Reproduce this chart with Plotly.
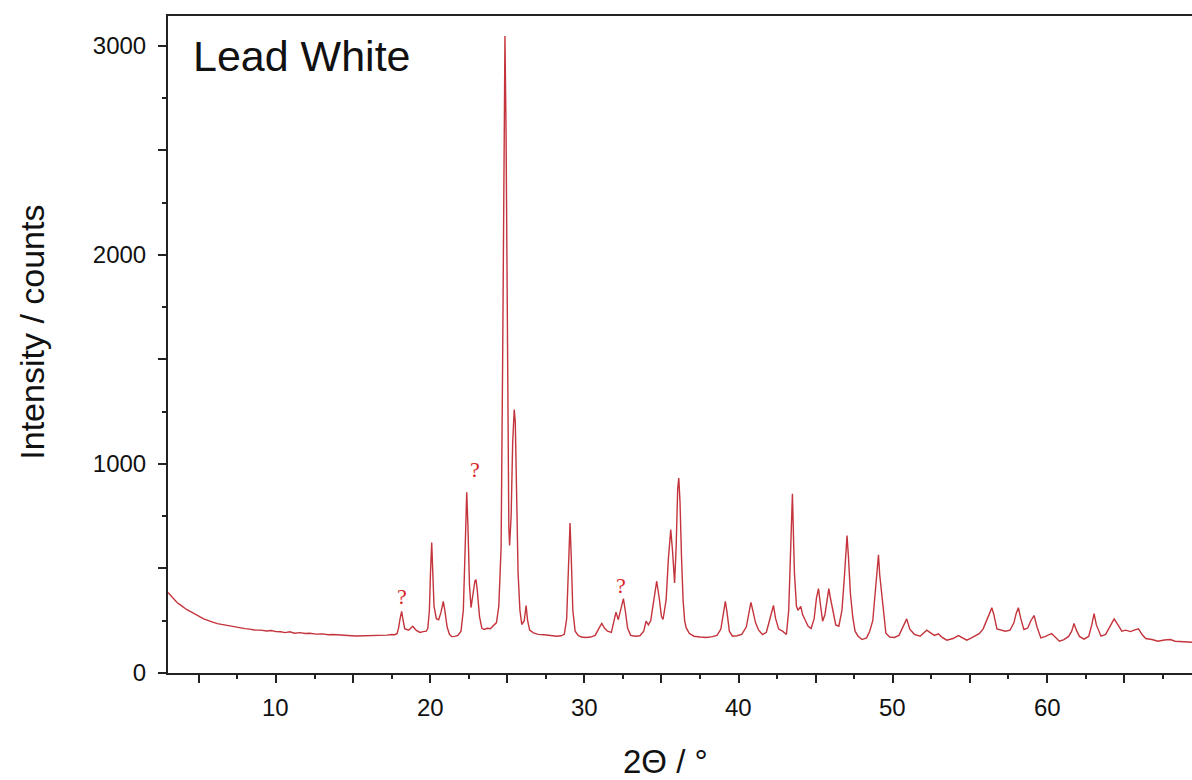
import plotly.graph_objects as go

# 2-theta positions (degrees) and intensities (counts)
two_theta = [
    3.0, 3.15, 3.3, 3.45, 3.6, 3.8, 3.97, 4.2, 4.5, 4.8, 5.08, 5.35, 5.6, 5.9, 6.2,
    6.6, 7.2, 7.6, 8.0, 8.3, 8.6, 9.0, 9.4, 9.7, 10.0, 10.3, 10.6, 10.9, 11.2,
    11.56, 11.9, 12.2, 12.6, 13.0, 13.4, 13.7, 14.1, 14.5, 14.9, 15.2, 15.6, 15.9,
    16.2, 16.5, 16.9, 17.2, 17.5, 17.7, 17.85, 17.95, 18.05, 18.15, 18.25, 18.35,
    18.6, 18.87, 19.1, 19.34, 19.55, 19.75, 19.85, 19.95, 20.02, 20.1, 20.16,
    20.25, 20.4, 20.55, 20.7, 20.85, 20.95, 21.1, 21.25, 21.4, 21.6, 21.8, 22.0,
    22.15, 22.27, 22.37, 22.45, 22.55, 22.65, 22.75, 22.9, 22.97, 23.05, 23.2,
    23.35, 23.5, 23.7, 23.9, 24.1, 24.3, 24.45, 24.6, 24.7, 24.78, 24.85, 24.92,
    25.0, 25.1, 25.15, 25.25, 25.35, 25.45, 25.52, 25.6, 25.7, 25.82, 25.94,
    26.1, 26.22, 26.32, 26.45, 26.7, 27.0, 27.4, 27.77, 28.2, 28.5, 28.7, 28.85,
    28.97, 29.07, 29.15, 29.25, 29.4, 29.6, 29.8, 30.1, 30.4, 30.7, 30.95, 31.13,
    31.3, 31.5, 31.75, 31.9, 32.05, 32.2, 32.35, 32.53, 32.65, 32.8, 33.0, 33.3,
    33.6, 33.85, 34.0, 34.15, 34.3, 34.5, 34.69, 34.85, 35.0, 35.1, 35.3, 35.45,
    35.6, 35.72, 35.85, 35.95, 36.05, 36.12, 36.2, 36.3, 36.4, 36.5, 36.6, 36.8,
    37.1, 37.5, 37.9, 38.3, 38.6, 38.85, 39.0, 39.14, 39.25, 39.4, 39.6, 39.9,
    40.2, 40.5, 40.7, 40.8, 40.95, 41.1, 41.3, 41.55, 41.8, 42.05, 42.26, 42.4,
    42.6, 42.85, 43.1, 43.25, 43.38, 43.49, 43.56, 43.62, 43.75, 43.85, 44.03,
    44.15, 44.3, 44.5, 44.7, 44.9, 45.05, 45.18, 45.3, 45.45, 45.6, 45.75, 45.85,
    45.95, 46.1, 46.3, 46.5, 46.7, 46.85, 46.95, 47.03, 47.12, 47.25, 47.4, 47.55,
    47.75, 48.0, 48.3, 48.5, 48.7, 48.9, 49.0, 49.07, 49.15, 49.3, 49.4, 49.55,
    49.8, 50.1, 50.4, 50.65, 50.9, 51.1, 51.4, 51.77, 52.0, 52.2, 52.45, 52.7,
    52.96, 53.2, 53.5, 53.9, 54.25, 54.55, 54.8, 55.1, 55.33, 55.6, 55.85, 56.1,
    56.3, 56.42, 56.55, 56.75, 57.0, 57.3, 57.6, 57.85, 58.0, 58.14, 58.3, 58.5,
    58.75, 58.95, 59.16, 59.35, 59.6, 59.9, 60.3, 60.55, 60.8, 61.1, 61.4, 61.6,
    61.75, 61.9, 62.1, 62.4, 62.7, 62.9, 63.05, 63.2, 63.5, 63.8, 64.1, 64.35,
    64.6, 64.85, 65.1, 65.4, 65.65, 65.93, 66.15, 66.4, 66.8, 67.2, 67.6, 68.0,
    68.3, 68.7, 69.0, 69.4,
]
intensity = [
    385, 372, 358, 346, 336, 326, 316, 304, 292, 278, 268, 258, 250, 243, 236,
    230, 222, 218, 212, 210, 206, 205, 201, 203, 198, 197, 193, 197, 190,
    193, 189, 190, 186, 187, 183, 184, 181, 180, 178, 177, 178, 176,
    180, 179, 182, 181, 184, 183, 188, 215, 260, 295, 250, 212,
    205, 224, 204, 194, 198, 200, 215, 300, 480, 624, 500,
    320, 260, 255, 290, 343, 300, 220, 185, 174, 175, 180, 200,
    300, 600, 864, 700, 420, 313, 360, 440, 447, 400, 270,
    215, 208, 214, 212, 226, 241, 320, 600, 1500, 2700, 3047, 2600,
    1500, 700, 610, 750, 1100, 1260, 1200, 850, 480, 300, 232,
    250, 323, 250, 205, 192, 185, 183, 180, 176, 178, 185, 260,
    500, 718, 550, 300, 200, 180, 172, 170, 172, 180, 215, 237,
    215, 200, 194, 240, 291, 255, 300, 356, 300, 215, 180, 176,
    178, 200, 248, 230, 250, 360, 439, 360, 270, 256, 350, 550,
    686, 580, 431, 600, 880, 933, 820, 550, 350, 250, 217, 190,
    176, 172, 170, 174, 180, 210, 290, 343, 290, 200, 176, 178,
    185, 220, 300, 338, 290, 240, 205, 184, 195, 260, 323, 260,
    210, 200, 184, 300, 600, 858, 650, 480, 320, 300, 319,
    280, 256, 225, 213, 260, 360, 404, 330, 248, 280, 370, 404,
    360, 300, 230, 224, 300, 450, 600, 657, 560, 380, 270, 200,
    176, 160, 168, 200, 250, 420, 540, 566, 470, 359, 280, 190,
    172, 170, 180, 220, 259, 210, 185, 176, 190, 205, 192, 180,
    187, 170, 157, 165, 179, 168, 157, 168, 176, 188, 210, 250,
    290, 312, 280, 211, 205, 200, 205, 240, 285, 312, 260, 208,
    215, 250, 275, 220, 168, 175, 189, 170, 152, 160, 175, 200,
    237, 205, 175, 162, 175, 230, 284, 230, 176, 185, 225, 259,
    230, 200, 205, 198, 205, 211, 185, 165, 160, 152, 158, 160,
    152, 150, 152, 147,
]

x_major_ticks = [5, 10, 15, 20, 25, 30, 35, 40, 45, 50, 55, 60, 65]
x_label_vals = [10, 20, 30, 40, 50, 60]
x_label_text = ["10", "20", "30", "40", "50", "60"]
y_major_ticks = [0, 500, 1000, 1500, 2000, 2500, 3000]
y_tick_labels = ["0", "", "1000", "", "2000", "", "3000"]

question_x = [18.16, 22.9, 32.36]
question_y = [366, 973, 418]

x_range = [3.0, 69.4]
y_range = [0, 3143]

FONT = "Liberation Sans, Arial, sans-serif"

fig = go.Figure()
fig.add_trace(go.Scatter(
    x=two_theta, y=intensity, mode="lines",
    line=dict(color="#c4343c", width=1.4),
    showlegend=False, hoverinfo="skip",
))

for qx, qy in zip(question_x, question_y):
    fig.add_annotation(
        x=qx, y=qy, xref="x", yref="y", text="?", showarrow=False,
        font=dict(family="Liberation Serif, Times New Roman, serif", size=22, color="#d8262a"),
        xanchor="center", yanchor="middle",
    )

# x tick labels, placed at their axis values below the axis line
for lv, lt in zip(x_label_vals, x_label_text):
    fig.add_annotation(
        x=lv, y=-0.052, xref="x", yref="paper", text=lt, showarrow=False,
        xanchor="center", yanchor="middle",
        font=dict(family=FONT, size=24, color="#111111"),
    )

fig.add_annotation(
    x=0.022, y=0.939, xref="paper", yref="paper", text="Lead White",
    showarrow=False, xanchor="left", yanchor="middle",
    font=dict(family=FONT, size=43, color="#111111"),
)
fig.add_annotation(
    x=-0.1328, y=0.518, xref="paper", yref="paper", text="Intensity / counts",
    showarrow=False, textangle=-90, xanchor="center", yanchor="middle",
    font=dict(family=FONT, size=34, color="#111111"),
)
fig.add_annotation(
    x=0.4854, y=-0.134, xref="paper", yref="paper", text="2\u0398 / \u00b0",
    showarrow=False, xanchor="center", yanchor="middle",
    font=dict(family=FONT, size=33, color="#111111"),
)

fig.update_layout(
    width=1192, height=780,
    margin=dict(l=168, r=0, t=16, b=107),
    paper_bgcolor="white", plot_bgcolor="white",
    font=dict(family=FONT, size=22, color="#111111"),
    xaxis=dict(
        range=x_range, showgrid=False, zeroline=False,
        showline=True, linecolor="#222222", linewidth=2, mirror=True,
        tickmode="array", tickvals=x_major_ticks, showticklabels=False,
        ticks="outside", ticklen=8, tickwidth=2, tickcolor="#222222",
        minor=dict(dtick=2.5, tick0=0, ticks="outside", ticklen=4, tickwidth=1.5,
                   tickcolor="#222222", showgrid=False),
    ),
    yaxis=dict(
        range=y_range, showgrid=False, zeroline=False,
        showline=True, linecolor="#222222", linewidth=2, mirror=False,
        tickmode="array", tickvals=y_major_ticks, ticktext=y_tick_labels,
        ticks="outside", ticklen=8, tickwidth=2, tickcolor="#222222",
        ticklabelstandoff=7,
        minor=dict(dtick=250, tick0=0, ticks="outside", ticklen=4, tickwidth=1.5,
                   tickcolor="#222222", showgrid=False),
        tickfont=dict(family=FONT, size=24, color="#111111"),
    ),
)

fig.write_html("out.html", config={"displayModeBar": False},
               post_script="document.body.style.margin='0';")
